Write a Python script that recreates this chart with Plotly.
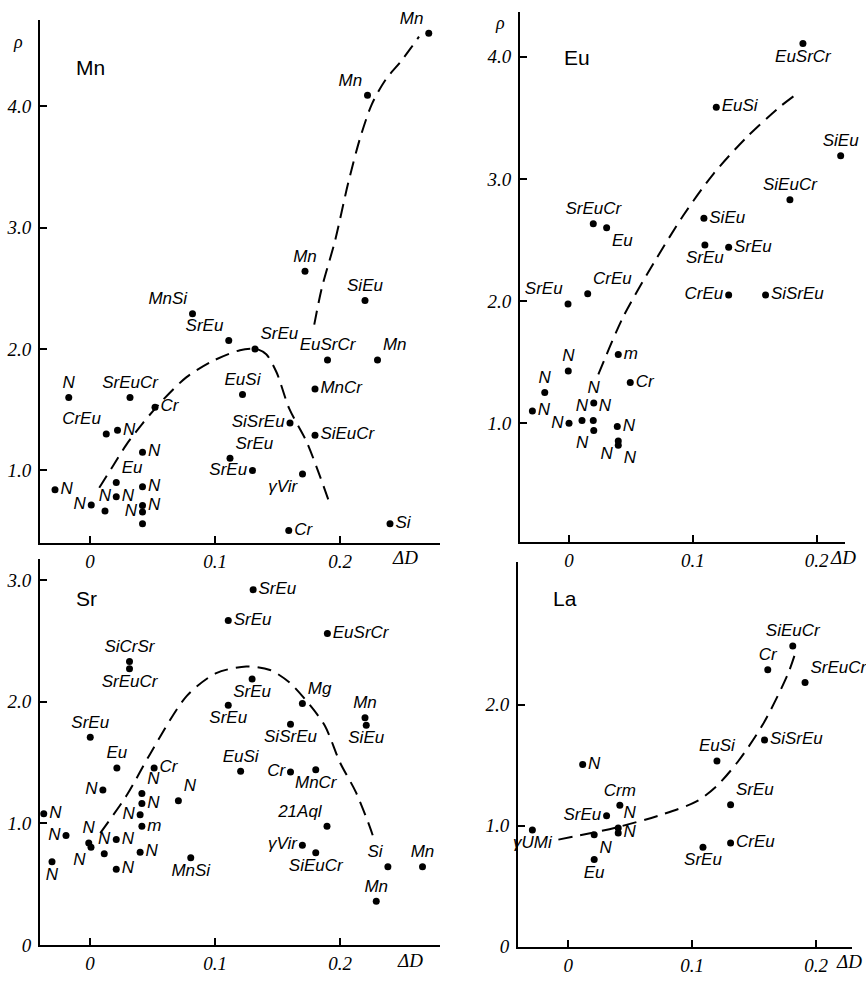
import plotly.graph_objects as go

W, H = 866, 985

# ---------------- Mn panel ----------------
mn_x = [0.271, 0.222, 0.172, 0.220, 0.082, 0.111, 0.132, 0.190, 0.230, -0.017,
        0.032, 0.122, 0.180, 0.052, 0.013, 0.022, 0.160, 0.180, 0.042, 0.112,
        0.130, 0.021, -0.028, 0.042, 0.170, 0.001, 0.012, 0.021, 0.042, 0.042,
        0.042, 0.159, 0.240]
mn_y = [4.60, 4.09, 2.64, 2.40, 2.29, 2.07, 2.00, 1.91, 1.91, 1.60,
        1.60, 1.625, 1.67, 1.52, 1.30, 1.33, 1.39, 1.29, 1.15, 1.10,
        1.00, 0.90, 0.84, 0.865, 0.97, 0.715, 0.666, 0.783, 0.71, 0.657,
        0.56, 0.504, 0.56]
mn_lab = ["Mn", "Mn", "Mn", "SiEu", "MnSi", "SrEu", "SrEu", "EuSrCr", "Mn", "N",
          "SrEuCr", "EuSi", "MnCr", "Cr", "CrEu", "N", "SiSrEu", "SiEuCr", "N", "SrEu",
          "SrEu", "Eu", "N", "N", "γVir", "N", "N", "N", "N", "N",
          "", "Cr", "Si"]
mn_pos = ["top left", "top left", "top center", "top center", "top left", "top left",
          "top right", "top center", "top right", "top center",
          "top center", "top center", "middle right", "middle right", "top left",
          "middle right", "middle left", "middle right", "middle right", "top right",
          "middle left", "top right", "middle right", "middle right", "bottom left",
          "middle left", "top center", "middle right", "middle right", "middle left",
          "middle right", "middle right", "middle right"]
mn_c1_x = [0.0074, 0.018, 0.029, 0.042, 0.058, 0.077, 0.098, 0.120, 0.133, 0.141,
           0.1493, 0.1594, 0.1733, 0.1826, 0.192]
mn_c1_y = [0.857, 1.03, 1.21, 1.386, 1.576, 1.766, 1.90, 1.99, 2.0, 1.956,
           1.806, 1.508, 1.236, 0.99, 0.72]
mn_c2_x = [0.1794, 0.1854, 0.196, 0.2064, 0.216, 0.2256, 0.2368, 0.2488, 0.2576, 0.2632]
mn_c2_y = [2.20, 2.50, 2.89, 3.36, 3.734, 4.019, 4.222, 4.369, 4.491, 4.572]

# ---------------- Eu panel ----------------
eu_x = [0.189, 0.119, 0.2195, 0.1785, 0.0196, 0.0304, 0.109, 0.1098, 0.129, -0.0008,
        0.0151, 0.129, 0.1588, 0.0398, -0.0006, 0.0495, -0.0196, -0.0296, 0.020, 0.0,
        0.0105, 0.0196, 0.020, 0.039, 0.0398, 0.0398]
eu_y = [4.108, 3.587, 3.19, 2.83, 2.634, 2.60, 2.677, 2.46, 2.44, 1.976,
        2.06, 2.05, 2.05, 1.563, 1.428, 1.333, 1.252, 1.10, 1.166, 1.0,
        1.022, 1.022, 0.942, 0.974, 0.855, 0.82]
eu_lab = ["EuSrCr", "EuSi", "SiEu", "SiEuCr", "SrEuCr", "Eu", "SiEu", "SrEu", "SrEu", "SrEu",
          "CrEu", "CrEu", "SiSrEu", "m", "N", "Cr", "N", "N", "N", "N",
          "N", "N", "N", "N", "N", "N"]
eu_pos = ["bottom center", "middle right", "top center", "top center", "top center",
          "bottom right", "middle right", "bottom center", "middle right", "top left",
          "top right", "middle left", "middle right", "middle right", "top center",
          "middle right", "top center", "middle right", "top center", "middle left",
          "top center", "top right", "bottom left", "middle right", "bottom left",
          "bottom right"]
eu_c_x = [0.0237, 0.0439, 0.0681, 0.0923, 0.1166, 0.1435, 0.1704, 0.1839]
eu_c_y = [1.40, 1.873, 2.305, 2.70, 3.04, 3.34, 3.59, 3.695]

# ---------------- Sr panel ----------------
sr_x = [0.1305, 0.1106, 0.1899, 0.0316, 0.0316, 0.1297, 0.1106, 0.1699, 0.220, 0.221,
        0.1604, 0.0002, 0.0215, 0.0513, 0.1205, 0.1604, 0.1806, 0.0103, 0.0415, 0.0707,
        0.0415, -0.037, 0.0401, 0.0415, 0.1896, -0.0192, -0.001, 0.0008, 0.021, 0.0114,
        0.0401, 0.1699, 0.1806, -0.0304, 0.0806, 0.021, 0.2383, 0.266, 0.229]
sr_y = [2.919, 2.667, 2.559, 2.329, 2.269, 2.185, 1.97, 1.985, 1.868, 1.806,
        1.814, 1.706, 1.454, 1.454, 1.427, 1.422, 1.44, 1.273, 1.245, 1.186,
        1.162, 1.078, 1.07, 0.975, 0.975, 0.899, 0.839, 0.804, 0.867, 0.75,
        0.763, 0.82, 0.758, 0.685, 0.717, 0.623, 0.644, 0.644, 0.36]
sr_lab = ["SrEu", "SrEu", "EuSrCr", "SiCrSr", "SrEuCr", "SrEu", "SrEu", "Mg", "Mn", "SiEu",
          "SiSrEu", "SrEu", "Eu", "Cr", "EuSi", "Cr", "MnCr", "N", "N", "N",
          "N", "N", "N", "m", "21Aql", "N", "N", "N", "N", "N",
          "N", "γVir", "SiEuCr", "N", "MnSi", "N", "Si", "Mn", "Mn"]
sr_pos = ["middle right", "middle right", "middle right", "top center", "bottom center",
          "bottom center", "bottom center", "top right", "top center", "bottom center",
          "bottom center", "top center", "top center", "middle right", "top center",
          "middle left", "bottom center", "middle left", "top right", "top right",
          "middle right", "middle right", "middle left", "middle right", "top left",
          "middle left", "top center", "bottom left", "middle right", "top center",
          "middle right", "middle left", "bottom center", "bottom center", "bottom center",
          "middle right", "top left", "top center", "top center"]
sr_c_x = [0.0082, 0.0295, 0.048, 0.0773, 0.101, 0.125, 0.144, 0.160, 0.176, 0.188,
          0.200, 0.2125, 0.2237, 0.2277]
sr_c_y = [0.92, 1.232, 1.568, 2.045, 2.234, 2.288, 2.26, 2.153, 1.97, 1.80,
          1.50, 1.26, 0.975, 0.853]

# ---------------- La panel ----------------
la_x = [0.1812, 0.161, 0.1911, 0.1584, 0.120, 0.0116, 0.131, 0.0416, 0.0309, 0.0403,
        0.0403, -0.029, 0.0209, 0.0209, 0.1087, 0.131]
la_y = [2.484, 2.287, 2.183, 1.707, 1.534, 1.506, 1.172, 1.169, 1.082, 0.98,
        0.939, 0.964, 0.926, 0.72, 0.822, 0.857]
la_lab = ["SiEuCr", "Cr", "SrEuCr", "SiSrEu", "EuSi", "N", "SrEu", "Crm", "SrEu", "N",
          "N", "γUMi", "N", "Eu", "SrEu", "CrEu"]
la_pos = ["top center", "top center", "top right", "middle right", "top center",
          "middle right", "top right", "top center", "middle left", "top right",
          "middle right", "bottom center", "bottom right", "bottom center",
          "bottom center", "middle right"]
la_c_x = [-0.008, 0.039, 0.0765, 0.1035, 0.120, 0.137, 0.157, 0.177, 0.184]
la_c_y = [0.885, 0.986, 1.095, 1.20, 1.33, 1.53, 1.835, 2.246, 2.45]

x_ticks = [0, 0.1, 0.2]
x_ticktext = ["0", "0.1", "0.2"]

LABEL_FONT = dict(family="Liberation Sans", size=17, color="black", style="italic")
TICK_FONT = dict(family="Liberation Sans Narrow", size=19, color="black", style="italic")

fig = go.Figure()

panels = [
    ("Mn", "", (mn_x, mn_y, mn_lab, mn_pos), [(mn_c1_x, mn_c1_y), (mn_c2_x, mn_c2_y)],
     (40, 440, 20, 549), [-0.04, 0.28], [0.403, 4.711], [1, 2, 3, 4], ["1.0", "2.0", "3.0", "4.0"]),
    ("Eu", "2", (eu_x, eu_y, eu_lab, eu_pos), [(eu_c_x, eu_c_y)],
     (520, 845, 12, 548.3), [-0.0396, 0.223], [0.027, 4.367], [1, 2, 3, 4], ["1.0", "2.0", "3.0", "4.0"]),
    ("Sr", "3", (sr_x, sr_y, sr_lab, sr_pos), [(sr_c_x, sr_c_y)],
     (40, 440, 565, 955.7), [-0.04, 0.28], [0, 3.174], [0, 1, 2, 3], ["0", "1.0", "2.0", "3.0"]),
    ("La", "4", (la_x, la_y, la_lab, la_pos), [(la_c_x, la_c_y)],
     (518, 852, 568, 957.5), [-0.0406, 0.229], [0, 3.18], [0, 1, 2], ["0", "1.0", "2.0"]),
]

layout = {}
for name, sfx, pts, curves, box, xr, yr, ytv, ytt in panels:
    l, r, t, b = box
    xa = "x" + sfx
    ya = "y" + sfx
    for cx, cy in curves:
        fig.add_trace(go.Scatter(x=cx, y=cy, mode="lines", xaxis=xa, yaxis=ya,
                                 line=dict(color="black", width=2, dash="14px,8px",
                                           shape="spline", smoothing=0.8),
                                 hoverinfo="skip", showlegend=False))
    px_, py_, lab, pos = pts
    fig.add_trace(go.Scatter(x=px_, y=py_, mode="markers+text", text=lab, textposition=pos,
                             xaxis=xa, yaxis=ya, cliponaxis=False,
                             marker=dict(color="black", size=7),
                             textfont=LABEL_FONT, showlegend=False))
    common = dict(showline=True, linecolor="black", linewidth=2, showgrid=False, zeroline=False,
                  ticks="inside", ticklen=7, tickwidth=1.5, tickcolor="black",
                  tickfont=TICK_FONT, fixedrange=True)
    layout["xaxis" + sfx] = dict(domain=[l / W, r / W], range=xr, anchor=ya,
                                 tickvals=x_ticks, ticktext=x_ticktext, **common)
    layout["yaxis" + sfx] = dict(domain=[1 - b / H, 1 - t / H], range=yr, anchor=xa,
                                 tickvals=ytv, ticktext=ytt, ticklabelstandoff=3, **common)

ann = []
def add_text(txt, px, py, size=19, style="italic", family="Liberation Sans Narrow"):
    ann.append(dict(text=txt, x=px / W, y=1 - py / H, xref="paper", yref="paper",
                    showarrow=False, xanchor="center", yanchor="middle",
                    font=dict(size=size, family=family, style=style, color="black")))

add_text("Mn", 90, 68, size=21, style="normal", family="Liberation Sans")
add_text("Eu", 577, 58, size=21, style="normal", family="Liberation Sans")
add_text("Sr", 86, 605, size=21, style="normal", family="Liberation Sans")
add_text("La", 565, 605, size=21, style="normal", family="Liberation Sans")
add_text("ρ", 18, 42, size=18)
add_text("ρ", 500, 23, size=18)
add_text("ΔD", 405, 564)
add_text("ΔD", 410, 971)
add_text("ΔD", 843, 564)
add_text("ΔD", 849, 972)

layout.update(dict(width=W, height=H, margin=dict(l=0, r=0, t=0, b=0),
                   paper_bgcolor="white", plot_bgcolor="white", showlegend=False,
                   annotations=ann))
fig.update_layout(**layout)
fig.write_html("out.html")
